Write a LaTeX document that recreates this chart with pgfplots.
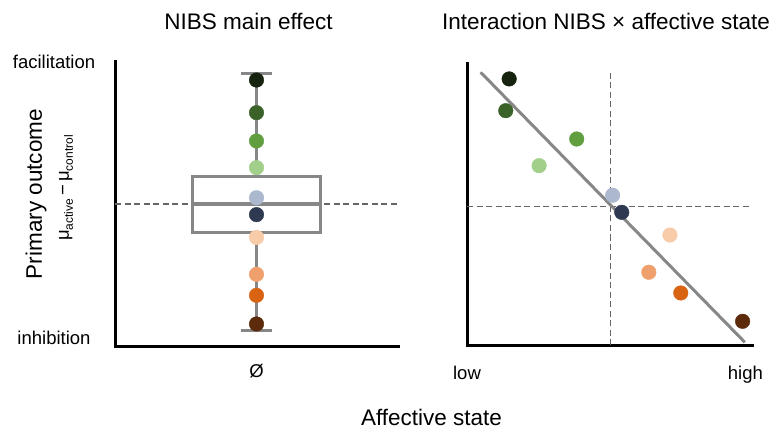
\documentclass[border=0pt]{standalone}
\usepackage{fontspec}
\setmainfont{Liberation Sans}
\usepackage{pgfplots}
\pgfplotsset{compat=1.18}
\usepgfplotslibrary{statistics}
\definecolor{c1}{HTML}{16230F}
\definecolor{c2}{HTML}{3B6329}
\definecolor{c3}{HTML}{609E40}
\definecolor{c4}{HTML}{A2CF89}
\definecolor{c5}{HTML}{ABB8CD}
\definecolor{c6}{HTML}{2F3A52}
\definecolor{c7}{HTML}{F8CBA9}
\definecolor{c8}{HTML}{F0A06C}
\definecolor{c9}{HTML}{D86413}
\definecolor{c10}{HTML}{5B2B0C}
\definecolor{boxgray}{HTML}{878787}
\definecolor{dashgray}{HTML}{666666}
\pgfplotsset{
  dotclasses/.style={
    scatter, only marks, scatter src=explicit symbolic, mark=*, mark size=7.3pt,
    scatter/classes={
      a={mark=*, draw=c1, fill=c1},
      b={mark=*, draw=c2, fill=c2},
      c={mark=*, draw=c3, fill=c3},
      d={mark=*, draw=c4, fill=c4},
      e={mark=*, draw=c5, fill=c5},
      f={mark=*, draw=c6, fill=c6},
      g={mark=*, draw=c7, fill=c7},
      h={mark=*, draw=c8, fill=c8},
      i={mark=*, draw=c9, fill=c9},
      j={mark=*, draw=c10, fill=c10}}
  },
  panel/.style={
    anchor=south west, scale only axis,
    xmin=0, xmax=1, ymin=-1, ymax=1,
    axis lines=left, axis line style={line width=3pt, -, line cap=rect},
    major tick length=0pt,
    tick label style={font=\fontsize{18.5}{22}\selectfont},
    xticklabel style={yshift=-15pt},
    clip=false,
  }
}
\begin{document}
\begin{tikzpicture}[x=1pt,y=1pt]
\useasboundingbox (0,0) rectangle (774,429);
% left panel
\begin{axis}[panel, at={(115pt,83pt)}, width=283pt, height=284pt,
  xtick={0.5}, xticklabels={Ø},
  ytick={-0.944,1}, yticklabels={inhibition,facilitation},
  yticklabel style={anchor=center, xshift=-61pt},
]
\addplot[dashgray, line width=1.1pt, dash pattern=on 6pt off 3.5pt] coordinates {(0,0) (1,0)};
\addplot[boxgray, line width=2.5pt, boxplot/draw direction=y,
  boxplot prepared={draw position=0.5, median=0,
  lower quartile=-0.202, upper quartile=0.195, lower whisker=-0.892, upper whisker=0.920,
  box extend=0.454, whisker extend=0.11}] coordinates {};
\addplot[draw=boxgray, line width=3.2pt, solid, mark=none] coordinates {(0.275,0) (0.725,0)};
\addplot[dotclasses] table[meta=c] {
x y c
0.5 0.873 a
0.5 0.643 b
0.5 0.444 c
0.5 0.256 d
0.5 0.044 e
0.5 -0.075 f
0.5 -0.235 g
0.5 -0.495 h
0.5 -0.643 i
0.5 -0.845 j
};
\end{axis}
% right panel
\begin{axis}[panel, at={(467pt,84pt)}, width=285pt, height=282pt,
  xtick={0,0.977}, xticklabels={low,high}, ytick=\empty,
  xticklabel style={yshift=-3pt},
]
\addplot[dashgray, line width=1.1pt, dash pattern=on 6pt off 3.5pt] coordinates {(0,-0.019) (1,-0.019)};
\addplot[dashgray, line width=1.1pt, dash pattern=on 6pt off 3.5pt] coordinates {(0.504,-1) (0.504,0.950)};
\addplot[boxgray, line width=3pt] coordinates {(0.048,0.934) (0.975,-0.981)};
\addplot[dotclasses] table[meta=c] {
x y c
0.148 0.887 a
0.136 0.662 b
0.385 0.461 c
0.253 0.272 d
0.511 0.062 e
0.543 -0.059 f
0.712 -0.220 g
0.638 -0.484 h
0.750 -0.631 i
0.967 -0.832 j
};
\end{axis}
\node[font=\fontsize{22.5}{27}\selectfont] at (248.5,407.5) {NIBS main effect};
\node[font=\fontsize{22.5}{27}\selectfont] at (606,407.5) {Interaction NIBS × affective state};
\node[font=\fontsize{22.5}{27}\selectfont] at (431.5,11.5) {Affective state};
\node[rotate=90, font=\fontsize{22.5}{27}\selectfont] at (36,235) {Primary outcome};
\node[rotate=90, font=\fontsize{18.5}{22}\selectfont] at (66,241) {μ\raisebox{-4pt}{\fontsize{12}{14}\selectfont active}\,−\,μ\raisebox{-4pt}{\fontsize{12}{14}\selectfont control}};
\end{tikzpicture}
\end{document}
